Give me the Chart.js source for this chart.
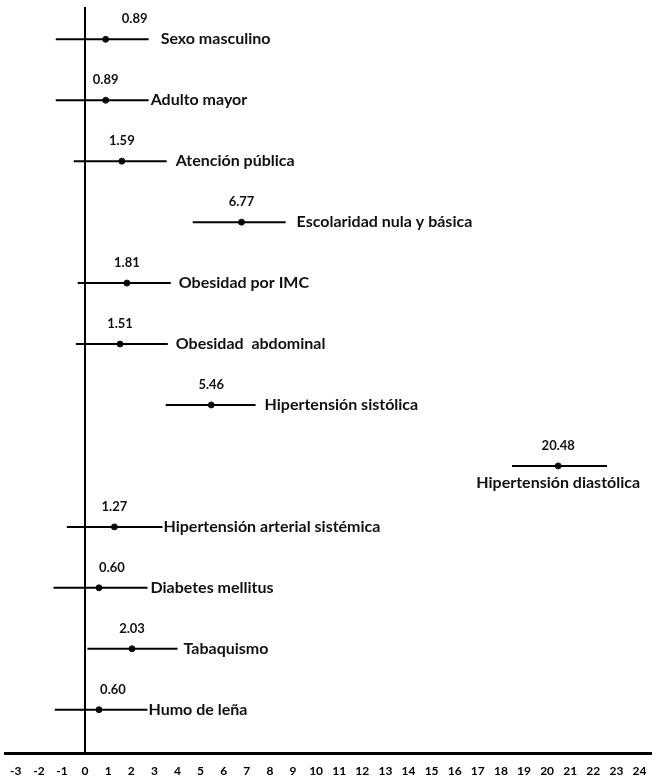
<!DOCTYPE html>
<html>
<head>
<meta charset="utf-8">
<script src="https://cdn.jsdelivr.net/npm/chart.js@4.4.1/dist/chart.umd.min.js"></script>
<style>
  html, body { margin: 0; padding: 0; background: #fff; }
  canvas { display: block; }
</style>
</head>
<body>
<canvas id="forest" width="657" height="778"></canvas>
<script>
// Odds ratios with 95% CI, one row per factor (top to bottom)
const categories = [
  'Sexo masculino', 'Adulto mayor', 'Atención pública', 'Escolaridad nula y básica',
  'Obesidad por IMC', 'Obesidad  abdominal', 'Hipertensión sistólica', 'Hipertensión diastólica',
  'Hipertensión arterial sistémica', 'Diabetes mellitus', 'Tabaquismo', 'Humo de leña'
];
const oddsRatio = [0.89, 0.89, 1.59, 6.77, 1.81, 1.51, 5.46, 20.48, 1.27, 0.60, 2.03, 0.60];
const ciLower   = [-1.27, -1.27, -0.49, 4.66, -0.32, -0.40, 3.49, 18.48, -0.79, -1.37, 0.10, -1.31];
const ciUpper   = [2.75, 2.75, 3.53, 8.68, 3.71, 3.58, 7.38, 22.59, 3.35, 2.70, 4.00, 2.70];
const xTicks = [-3, -2, -1, 0, 1, 2, 3, 4, 5, 6, 7, 8, 9, 10, 11, 12, 13, 14, 15, 16, 17, 18, 19, 20, 21, 22, 23, 24];

// label tweaks (px): gap after CI line, shift of value text, rows labelled underneath
const labelGap = [12, 2, 9, 11, 8, 8, 9, 0, 1, 3, 6, 1];
const valueShift = [29, 0, 0, 0, 0, 0, 0, 0, 0, 13, 0, 14];
const labelBelow = ['Hipertensión diastólica'];

const FONT = 'Lato, "Open Sans", sans-serif';

const ciSets = categories.map((c, i) => ({
  label: c,
  data: [{ x: ciLower[i], y: i }, { x: ciUpper[i], y: i }],
  showLine: true,
  borderColor: '#000',
  borderWidth: 2,
  pointRadius: 0
}));

const pointSet = {
  label: 'OR',
  data: oddsRatio.map((v, i) => ({ x: v, y: i })),
  pointRadius: 3,
  pointBackgroundColor: '#111',
  pointBorderColor: '#111',
  showLine: false
};

const labelPlugin = {
  id: 'forestLabels',
  afterDatasetsDraw(chart) {
    const ctx = chart.ctx;
    const xs = chart.scales.x, ys = chart.scales.y;
    ctx.save();
    ctx.fillStyle = '#111';
    categories.forEach((c, i) => {
      const px = xs.getPixelForValue(oddsRatio[i]);
      const py = ys.getPixelForValue(i);
      ctx.font = 'bold 13px ' + FONT;
      ctx.textAlign = 'center';
      ctx.textBaseline = 'middle';
      ctx.fillText(oddsRatio[i].toFixed(2), px + valueShift[i], py - 20);
      ctx.font = 'bold 16px ' + FONT;
      if (labelBelow.includes(c)) {
        ctx.textAlign = 'center';
        ctx.fillText(c, px, py + 17);
      } else {
        ctx.textAlign = 'left';
        ctx.fillText(c, xs.getPixelForValue(ciUpper[i]) + labelGap[i], py);
      }
    });
    ctx.restore();
  }
};

new Chart(document.getElementById('forest'), {
  type: 'scatter',
  data: { datasets: [...ciSets, pointSet] },
  options: {
    responsive: false,
    animation: false,
    devicePixelRatio: 1,
    layout: { padding: { top: 7, left: 5, right: 5, bottom: -10 } },
    plugins: { legend: { display: false }, tooltip: { enabled: false } },
    scales: {
      x: {
        type: 'linear',
        min: -3.43,
        max: 24.54,
        afterBuildTicks: function(scale) { scale.ticks = xTicks.map(v => ({ value: v })); },
        ticks: {
          autoSkip: false,
          maxRotation: 0,
          padding: 10,
          color: '#000',
          font: { family: FONT, size: 12, weight: 'bold' }
        },
        grid: {
          drawTicks: false,
          color: c => (c.tick && c.tick.value === 0) ? '#000' : 'rgba(0,0,0,0)',
          lineWidth: c => (c.tick && c.tick.value === 0) ? 2 : 0
        },
        border: { display: true, color: '#000', width: 3 }
      },
      y: {
        type: 'linear',
        reverse: true,
        min: -0.53,
        max: 11.72,
        display: false
      }
    }
  },
  plugins: [labelPlugin]
});
</script>
</body>
</html>
